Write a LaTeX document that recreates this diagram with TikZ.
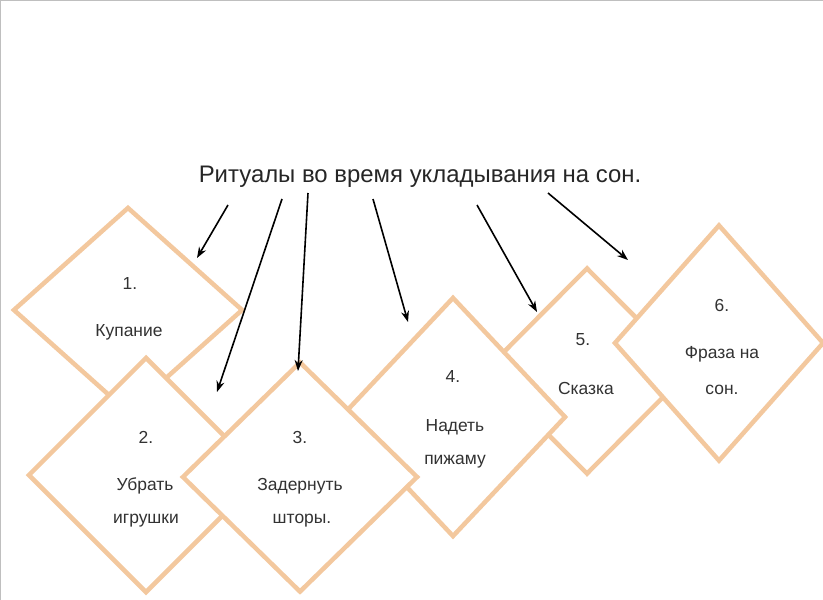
\documentclass[tikz,border=0pt]{standalone}
\usepackage{fontspec}
\setmainfont{Liberation Sans}
\usetikzlibrary{shapes.geometric,arrows.meta}

\definecolor{peach}{RGB}{243,200,158}
\definecolor{ink}{RGB}{50,50,50}

\begin{document}
\begin{tikzpicture}[x=1bp,y=-1bp,
  card/.style={diamond,draw=peach,line width=4.5bp,fill=white,inner sep=0pt},
  txt/.style={text=ink,font=\fontsize{17.5}{20}\selectfont,inner sep=0pt},
  ptr/.style={black,line width=1.6bp,-{Stealth[length=11bp,width=8bp]}}]
  \useasboundingbox (0,0) rectangle (823,600);
  \fill[white] (0,0) rectangle (823,600);
  \draw[black!25,line width=1.5bp] (0.75,600) -- (0.75,0.75) -- (823,0.75);
  % cards, back to front
  \node [card,minimum width=230bp,minimum height=206bp] (d1) at (128,310) {};
  \node [card,minimum width=236bp,minimum height=236bp] (d2) at (146,475) {};
  \node [card,minimum width=206bp,minimum height=207bp] (d5) at (587,371) {};
  \node [card,minimum width=226bp,minimum height=240bp] (d4) at (453,417) {};
  \node [card,minimum width=236bp,minimum height=231bp] (d3) at (300,477) {};
  \node [card,minimum width=210bp,minimum height=237bp] (d6) at (719,343) {};
  % texts
  \node [txt] (n1) at (130,284) {1.};
  \node [txt] (t1) at (129,332) {Купание};
  \node [txt] (n2) at (146,437) {2.};
  \node [txt] (t2a) at (145,486) {Убрать};
  \node [txt] (t2b) at (146,521) {игрушки};
  \node [txt] (n3) at (300,437) {3.};
  \node [txt] (t3a) at (300,486) {Задернуть};
  \node [txt] (t3b) at (302,521) {шторы.};
  \node [txt] (n4) at (453,377) {4.};
  \node [txt] (t4a) at (455,427) {Надеть};
  \node [txt] (t4b) at (455,462) {пижаму};
  \node [txt] (n5) at (583,340) {5.};
  \node [txt] (t5) at (586,388) {Сказка};
  \node [txt] (n6) at (722,305) {6.};
  \node [txt] (t6a) at (722,354) {Фраза на};
  \node [txt] (t6b) at (722,390) {сон.};
  \node [text=black!85,font=\fontsize{24}{28}\selectfont,inner sep=0pt] (title) at (420,177)
    {Ритуалы во время укладывания на сон.};
  % arrows
  \coordinate (s1) at (228,205); \coordinate (e1) at (197,258);
  \coordinate (s2) at (282,199); \coordinate (e2) at (217,392);
  \coordinate (s3) at (308,193); \coordinate (e3) at (298,371);
  \coordinate (s4) at (373,199); \coordinate (e4) at (408,322);
  \coordinate (s5) at (477,205); \coordinate (e5) at (537,312);
  \coordinate (s6) at (548,193); \coordinate (e6) at (628,260);
  \foreach \i in {1,...,6}
    \draw [ptr] (s\i) -- (e\i);
\end{tikzpicture}
\end{document}
